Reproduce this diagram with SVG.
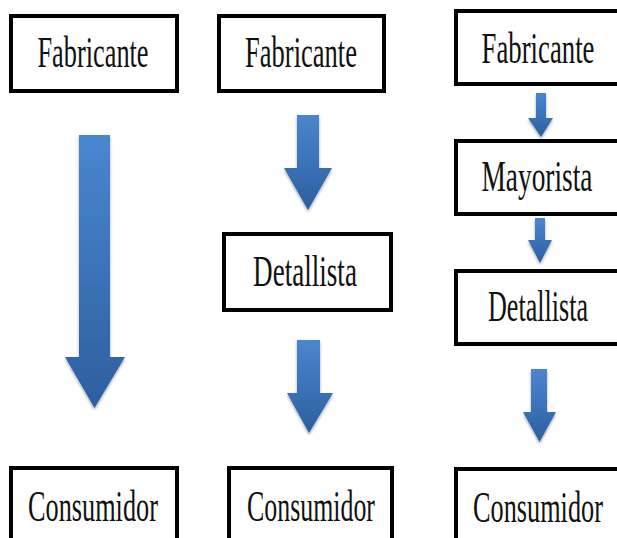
<svg xmlns="http://www.w3.org/2000/svg" width="617" height="538" viewBox="0 0 617 538">
  <defs>
    <linearGradient id="arrowFill" x1="0" y1="0" x2="0" y2="1">
      <stop offset="0" stop-color="#4a86d0"/>
      <stop offset="1" stop-color="#2c5f9f"/>
    </linearGradient>
    <filter id="soft" x="-20%" y="-10%" width="140%" height="130%">
      <feGaussianBlur in="SourceAlpha" stdDeviation="1.5"/>
      <feOffset dx="0" dy="2" result="b"/>
      <feComponentTransfer><feFuncA type="linear" slope="0.35"/></feComponentTransfer>
      <feMerge><feMergeNode/><feMergeNode in="SourceGraphic"/></feMerge>
    </filter>
    <style>
      .box { fill: #ffffff; stroke: #000000; stroke-width: 4; }
      .label { font-family: "Liberation Serif", "Times New Roman", serif; font-size: 44px; fill: #111111; text-anchor: middle; }
      .arrow { fill: url(#arrowFill); filter: url(#soft); }
    </style>
  </defs>
  <rect width="617" height="538" fill="#ffffff"/>

  <!-- column 1 -->
  <g id="fabricante-1">
    <rect class="box" x="11" y="16" width="166" height="75"/>
    <text class="label" transform="translate(93,67) scale(0.598,1)">Fabricante</text>
  </g>
  <g id="consumidor-1">
    <rect class="box" x="11" y="468" width="166" height="80"/>
    <text class="label" transform="translate(93,521) scale(0.597,1)">Consumidor</text>
  </g>

  <!-- column 2 -->
  <g id="fabricante-2">
    <rect class="box" x="219" y="16" width="165" height="75"/>
    <text class="label" transform="translate(301,67) scale(0.603,1)">Fabricante</text>
  </g>
  <g id="detallista-2">
    <rect class="box" x="224" y="234" width="167" height="76"/>
    <text class="label" transform="translate(305,286) scale(0.616,1)">Detallista</text>
  </g>
  <g id="consumidor-2">
    <rect class="box" x="229" y="468" width="163" height="80"/>
    <text class="label" transform="translate(311,521) scale(0.588,1)">Consumidor</text>
  </g>

  <!-- column 3: boxes run to the right edge -->
  <g id="fabricante-3">
    <rect class="box" x="456" y="11" width="164" height="73"/>
    <text class="label" transform="translate(538,63) scale(0.608,1)">Fabricante</text>
  </g>
  <g id="mayorista-3">
    <rect class="box" x="456" y="141" width="164" height="73"/>
    <text class="label" transform="translate(537,191) scale(0.622,1)">Mayorista</text>
  </g>
  <g id="detallista-3">
    <rect class="box" x="456" y="271" width="164" height="73"/>
    <text class="label" transform="translate(538,321) scale(0.593,1)">Detallista</text>
  </g>
  <g id="consumidor-3">
    <rect class="box" x="456" y="469" width="164" height="80"/>
    <text class="label" transform="translate(538,522) scale(0.597,1)">Consumidor</text>
  </g>

  <!-- block arrows -->
  <g id="connectors">
    <polygon class="arrow" points="79,135 110,135 110,357 125,357 94.5,408 65,357 79,357"/>
    <polygon class="arrow" points="297,115 319,115 319,168 332,168 308,210 284,168 297,168"/>
    <polygon class="arrow" points="297,340 320,340 320,393 333,393 309,433 287,393 297,393"/>
    <polygon class="arrow" points="536,93 546,93 546,118 553,118 541,137 528,118 536,118"/>
    <polygon class="arrow" points="535,218 545,218 545,240 552,240 540,263 528,240 535,240"/>
    <polygon class="arrow" points="531,369 547,369 547,412 556,412 539.5,442 523,412 531,412"/>
  </g>
</svg>
